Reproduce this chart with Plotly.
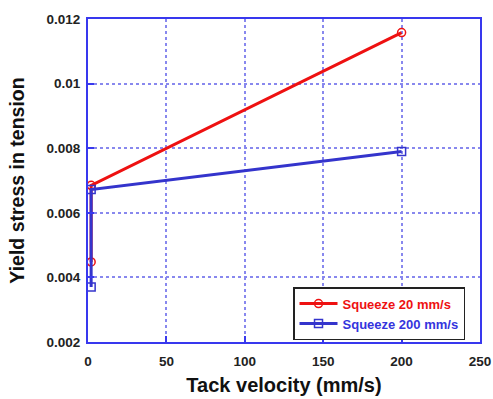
import plotly.graph_objects as go

tack_velocity_20 = [2, 2, 200]
yield_20 = [0.00448, 0.00685, 0.01158]
tack_velocity_200 = [2, 2, 200]
yield_200 = [0.0037, 0.00672, 0.0079]

x_ticks = [0, 50, 100, 150, 200, 250]
y_ticks = [0.002, 0.004, 0.006, 0.008, 0.01, 0.012]
y_tick_text = ["0.002", "0.004", "0.006", "0.008", "0.01", "0.012"]

RED = "#ee1111"
BLUE = "#3434cc"
AXIS_BLUE = "#3838ee"
GRID = "#8888ee"
FONT = "Liberation Sans"

fig = go.Figure()
fig.add_trace(go.Scatter(
    x=tack_velocity_20, y=yield_20, mode="lines+markers",
    name='<span style="color:#ee1111">Squeeze 20 mm/s</span>',
    line=dict(color=RED, width=3),
    marker=dict(symbol="circle-open", size=8, color=RED, line=dict(width=1.5)),
))
fig.add_trace(go.Scatter(
    x=tack_velocity_200, y=yield_200, mode="lines+markers",
    name='<span style="color:#3434dd">Squeeze 200 mm/s</span>',
    line=dict(color=BLUE, width=3),
    marker=dict(symbol="square-open", size=8, color=BLUE, line=dict(width=1.5)),
))

axis_common = dict(
    showline=True, linecolor=AXIS_BLUE, linewidth=2, mirror=True,
    ticks="inside", ticklen=6, tickcolor=AXIS_BLUE, tickwidth=2,
    showgrid=True, gridcolor=GRID, griddash="dot", gridwidth=1.5,
    zeroline=False, automargin=False,
    tickfont=dict(family=FONT, size=13.5, color="#222222", weight="bold"),
)

fig.update_xaxes(
    range=[0, 250], tickvals=x_ticks, ticklabelstandoff=6,
    title=dict(text="Tack velocity (mm/s)", font=dict(family=FONT, size=20, color="#111111", weight="bold"), standoff=10),
    **axis_common,
)
fig.update_yaxes(
    range=[0.002, 0.012], tickvals=y_ticks, ticktext=y_tick_text, ticklabelstandoff=3,
    title=dict(text="Yield stress in tension", font=dict(family=FONT, size=19.5, color="#111111", weight="bold"), standoff=17),
    **axis_common,
)

fig.update_layout(
    width=493, height=399,
    margin=dict(l=88, r=13, t=19, b=57),
    paper_bgcolor="white", plot_bgcolor="white",
    showlegend=True,
    legend=dict(
        x=0.523, y=0.17, xanchor="left", yanchor="top",
        bordercolor="#222222", borderwidth=1.5, bgcolor="white",
        font=dict(family=FONT, size=13, weight="bold"),
        tracegroupgap=0, itemwidth=38,
    ),
)

fig.write_html(
    "out.html",
    config={"displayModeBar": False},
    post_script="document.body.style.margin='0';document.body.style.overflow='hidden';",
)
